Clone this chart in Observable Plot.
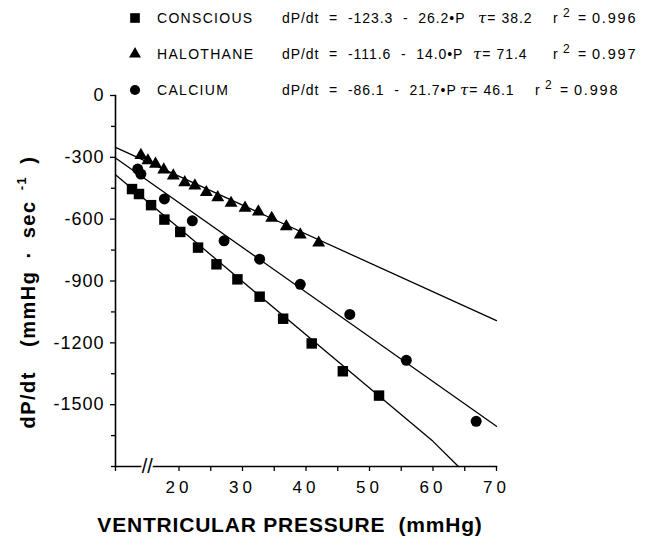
<!DOCTYPE html>
<html>
<head>
<meta charset="utf-8">
<script src="https://cdn.jsdelivr.net/npm/d3@7"></script>
<script src="https://cdn.jsdelivr.net/npm/@observablehq/plot@0.6"></script>
<style>
  body { margin: 0; background: #fff; }
  #wrap { position: relative; width: 662px; height: 546px; font-family: "Liberation Sans", Arial, sans-serif; color: #000; overflow: hidden; }
  #chart { position: absolute; left: 0; top: 0; }
  .leg { position: absolute; font-size: 14px; white-space: nowrap; line-height: 1; }
  .legmark { position: absolute; }
  .ylab { position: absolute; font-weight: bold; font-size: 20px; white-space: nowrap; letter-spacing: 1.5px; word-spacing: 5px; transform: translate(-50%, -50%) rotate(-90deg); }
  .xlab { position: absolute; font-weight: bold; font-size: 21px; white-space: nowrap; letter-spacing: 0.8px; transform: translate(-50%, -50%); }
  g[aria-label="y-axis tick label"] text { letter-spacing: 1px; }
  g[aria-label="x-axis tick label"] text { letter-spacing: 4px; }
</style>
</head>
<body>
<div id="wrap"><div id="chart"></div></div>
<script>
// ---- data ----
const groups = ["CONSCIOUS", "HALOTHANE", "CALCIUM"];
const symbols = ["square", "triangle", "circle"];
const equations = ["dP/dt = -123.3 - 26.2•P", "dP/dt = -111.6 - 14.0•P", "dP/dt = -86.1 - 21.7•P"];
const taus = ["38.2", "71.4", "46.1"];
const r2s = ["0.996", "0.997", "0.998"];

const consciousP = [12.6, 13.7, 15.6, 17.7, 20.2, 23.0, 25.9, 29.2, 32.7, 36.4, 40.9, 45.8, 51.5];
const consciousV = [-454, -478, -532, -602, -662, -738, -819, -892, -976, -1083, -1203, -1338, -1456];

const halothaneP = [14.0, 15.1, 16.3, 17.6, 19.1, 20.9, 22.5, 24.3, 26.1, 28.2, 30.4, 32.5, 34.6, 36.9, 39.1, 42.0];
const halothaneV = [-290, -316, -332, -360, -389, -422, -438, -470, -495, -522, -546, -564, -595, -636, -676, -715];

const calciumP = [13.5, 14.0, 17.7, 22.1, 27.1, 32.7, 39.1, 46.9, 55.8, 66.8];
const calciumV = [-357, -381, -502, -608, -705, -794, -916, -1062, -1285, -1581];

// fitted lines (vertices)
const consciousLineP = [10, 60, 64];
const consciousLineV = [-385, -1678, -1800];
const halothaneLineP = [10, 70];
const halothaneLineV = [-252, -1092];
const calciumLineP = [10, 70];
const calciumLineV = [-303, -1605];

// axes
const xDomain = [10, 70];
const yDomain = [-1800, 0];
const xMajor = [20, 30, 40, 50, 60, 70];
const xMinor = [10, 25, 35, 45, 55, 65];
const yMajor = [0, -300, -600, -900, -1200, -1500];
const yMinor = [-150, -450, -750, -1050, -1350, -1650, -1800];
const xBreak = [15];
const xTitle = "VENTRICULAR PRESSURE  (mmHg)";

// ---- build tables ----
const toRows = (P, V) => P.map((p, i) => ({P: p, v: V[i]}));
const pts = [toRows(consciousP, consciousV), toRows(halothaneP, halothaneV), toRows(calciumP, calciumV)];
const lines = [toRows(consciousLineP, consciousLineV), toRows(halothaneLineP, halothaneLineV), toRows(calciumLineP, calciumLineV)];
const radii = [5.9, 4.8, 5.5];

const chart = Plot.plot({
  width: 662,
  height: 546,
  marginLeft: 115,
  marginRight: 166,
  marginTop: 95,
  marginBottom: 80,
  x: {domain: xDomain},
  y: {domain: yDomain},
  style: {fontFamily: "'Liberation Sans', Arial, sans-serif", color: "black", background: "white", overflow: "visible"},
  marks: [
    Plot.axisX(xMajor, {tickSize: 5, tickPadding: 9, fontSize: 17, label: null, tickFormat: d => String(d), strokeWidth: 1.3}),
    Plot.axisX(xMinor, {tickSize: 5, label: null, tickFormat: () => "", strokeWidth: 1.3}),
    Plot.axisY(yMajor, {tickSize: 5, tickPadding: 6, fontSize: 18, label: null, tickFormat: d => String(d), strokeWidth: 1.3}),
    Plot.axisY(yMinor, {tickSize: 4, label: null, tickFormat: () => "", strokeWidth: 1.3}),
    Plot.frame({anchor: "left", strokeWidth: 1.6}),
    Plot.frame({anchor: "bottom", strokeWidth: 1.6}),
    Plot.text(xBreak, {x: d => d, frameAnchor: "bottom", text: () => "//", fontSize: 20, fill: "black", stroke: "white", strokeWidth: 4, paintOrder: "stroke", lineAnchor: "middle"}),
    ...lines.map(L => Plot.line(L, {x: "P", y: "v", stroke: "black", strokeWidth: 1.3})),
    ...pts.map((S, i) => Plot.dot(S, {x: "P", y: "v", symbol: () => symbols[i], r: radii[i], fill: "black", stroke: "none"}))
  ]
});
document.getElementById("chart").appendChild(chart);

// ---- legend (HTML overlay) ----
const wrap = document.getElementById("wrap");
const rowY = [18, 54, 90];
const eqX = 282;
const tauX = [478, 473, 460];
const rX = [553, 553, 535];
groups.forEach((g, i) => {
  const y = rowY[i];
  const s = d3.create("svg").attr("class", "legmark").attr("width", 16).attr("height", 16)
    .style("left", (135 - 8) + "px").style("top", (y - 8) + "px");
  s.append("path").attr("transform", "translate(8,8)")
    .attr("d", d3.symbol(i === 0 ? d3.symbolSquare : i === 1 ? d3.symbolTriangle : d3.symbolCircle, Math.PI * radii[i] * radii[i] * 0.85)())
    .attr("fill", "black");
  wrap.appendChild(s.node());

  const add = (html, x, extra) => {
    const d = document.createElement("div");
    d.className = "leg";
    d.innerHTML = html;
    d.style.left = x + "px";
    d.style.top = (y - 7) + "px";
    if (extra) Object.assign(d.style, extra);
    wrap.appendChild(d);
  };
  add(g, 157, {letterSpacing: "1.3px"});
  add(equations[i].replace(/ /g, "&nbsp;&nbsp;"), eqX, {letterSpacing: "0.95px"});
  add('<i style="font-family:\'DejaVu Serif\',serif;font-size:15px">τ</i>=&nbsp;' + taus[i], tauX[i], {letterSpacing: "1px"});
  add('r', rX[i]);
  add('2', rX[i] + 10, {fontSize: "12px", top: (y - 11) + "px"});
  add('=', rX[i] + 25);
  add(r2s[i], rX[i] + 39, {letterSpacing: "1.8px", fontSize: "14.5px"});
});

// ---- axis titles ----
const yl = document.createElement("div");
yl.className = "ylab";
yl.innerHTML = 'dP/dt&nbsp;&nbsp;(mmHg&nbsp;·&nbsp;sec<sup style="font-size:13px;vertical-align:baseline;position:relative;top:-9px">&nbsp;-1</sup>&nbsp;)';
yl.style.left = "28px";
yl.style.top = "292px";
wrap.appendChild(yl);

const xl = document.createElement("div");
xl.className = "xlab";
xl.textContent = xTitle;
xl.style.left = "290px";
xl.style.top = "525px";
xl.style.whiteSpace = "pre";
wrap.appendChild(xl);
</script>
</body>
</html>
